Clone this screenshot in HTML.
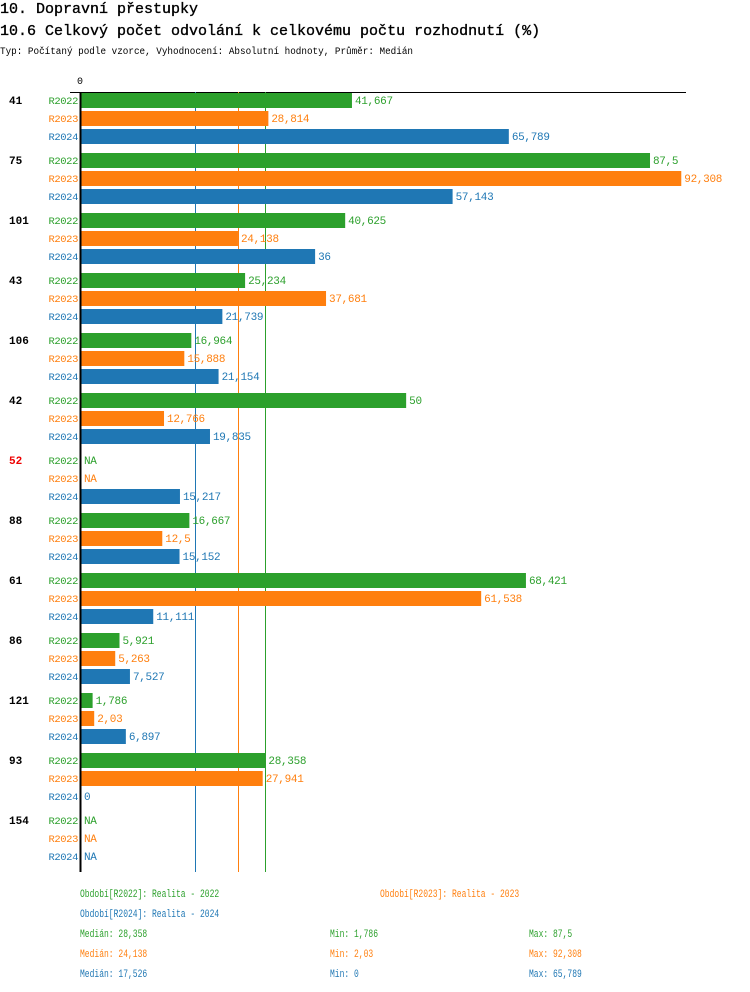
<!DOCTYPE html>
<html><head><meta charset="utf-8"><style>
body{margin:0;background:#fff;}
svg{display:block;font-family:"Liberation Mono",monospace;}
</style></head><body>
<svg id="c" width="750" height="992" xmlns="http://www.w3.org/2000/svg">
<text x="0" y="13" font-size="15" stroke="#000" stroke-width="0.35">10. Dopravní přestupky</text>
<text x="0" y="35" font-size="15" stroke="#000" stroke-width="0.35">10.6 Celkový počet odvolání k celkovému počtu rozhodnutí (%)</text>
<text x="0" y="54" font-size="10" textLength="413" lengthAdjust="spacingAndGlyphs">Typ: Počítaný podle vzorce, Vyhodnocení: Absolutní hodnoty, Průměr: Medián</text>
<g id="plot"></g>
</svg>
<script>
const groups=["41","75","101","43","106","42","52","88","61","86","121","93","154"];
const r2022=[41.667,87.5,40.625,25.234,16.964,50,null,16.667,68.421,5.921,1.786,28.358,null];
const r2023=[28.814,92.308,24.138,37.681,15.888,12.766,null,12.5,61.538,5.263,2.03,27.941,null];
const r2024=[65.789,57.143,36,21.739,21.154,19.835,15.217,15.152,11.111,7.527,6.897,0,null];
const seriesNames=["R2022","R2023","R2024"];
const medians=[28.358,24.138,17.526];
const mins=["1,786","2,03","0"];
const maxs=["87,5","92,308","65,789"];
const redGroups=["52"];
const colors=["#2ca02c","#ff7f0e","#1f77b4"];
const series=[r2022,r2023,r2024];
const NS="http://www.w3.org/2000/svg";
const g=document.getElementById('plot');
const x=v=>81+v*6.503;
const y=(i,j)=>100+60*i+18*j;
function mk(t,a,txt){const e=document.createElementNS(NS,t);for(const k in a)e.setAttribute(k,a[k]);if(txt!==undefined)e.textContent=txt;g.appendChild(e);return e;}
const fmt=v=>String(v).replace('.',',');
let e=mk('line',{x1:70,x2:686,y1:92.5,y2:92.5,stroke:'#000','stroke-width':1});


e=mk('text',{x:77,y:84,'font-size':10},'0');


medians.forEach((m,j)=>{
  e=mk('line',{x1:Math.round(x(m))+0.5,x2:Math.round(x(m))+0.5,y1:92,y2:872,stroke:colors[j],'stroke-width':1});
  
  
});
groups.forEach((gr,i)=>{
  e=mk('text',{x:9,y:y(i,0)+4,'font-size':11,'font-weight':'bold',fill:redGroups.includes(gr)?'#e00':'#000'},gr);
  
  
  series.forEach((s,j)=>{
    const v=s[i],yy=y(i,j);
    e=mk('text',{x:78,y:yy+4,'font-size':10.5,'text-anchor':'end',fill:colors[j],'letter-spacing':-0.4},seriesNames[j]);
    
    
    if(v!==null&&v>0){
      e=mk('rect',{x:x(0),y:yy-7,width:x(v)-x(0),height:15,fill:colors[j]});
      
      
    }
    e=mk('text',{x:(v===null?x(0):x(v))+3,y:yy+4,'font-size':11,fill:colors[j],'letter-spacing':-0.3},v===null?'NA':fmt(v));
    
    
  });
});
e=mk('line',{x1:80.5,x2:80.5,y1:92,y2:872,stroke:'#000','stroke-width':2});


function t(xx,yy,c,txt,name){e=mk('text',{x:xx,y:yy,fill:c,'font-size':11,textLength:(txt.length*4.8).toFixed(1),lengthAdjust:'spacingAndGlyphs'},txt);}
t(80,897,colors[0],'Období[R2022]: Realita - 2022','legend-r2022');
t(380,897,colors[1],'Období[R2023]: Realita - 2023','legend-r2023');
t(80,917,colors[2],'Období[R2024]: Realita - 2024','legend-r2024');
medians.forEach((m,j)=>{
  const yy=937+20*j;
  t(80,yy,colors[j],'Medián: '+fmt(m),'median-stat');
  t(330,yy,colors[j],'Min: '+mins[j],'min-stat');
  t(529,yy,colors[j],'Max: '+maxs[j],'max-stat');
});
</script>
</body></html>
